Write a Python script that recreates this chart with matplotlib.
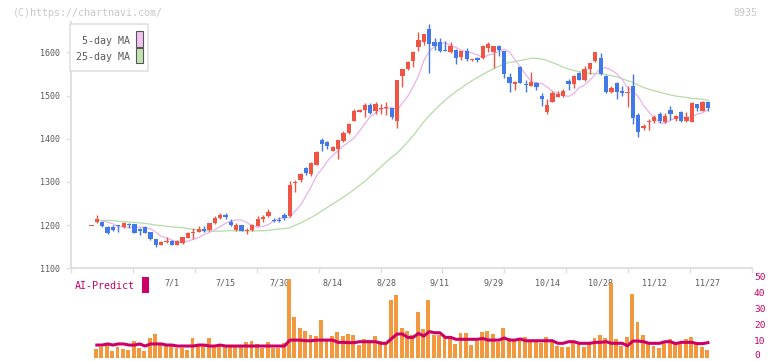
import numpy as np
import pandas as pd
import matplotlib
matplotlib.use('Agg')
import matplotlib.pyplot as plt
from matplotlib.patches import Rectangle
from matplotlib.transforms import blended_transform_factory

plt.rcParams['font.family'] = 'DejaVu Sans Mono'

# --- data (daily bars, 6/10 .. 11/27) ---
opens = [1200, 1207, 1208, 1196, 1196, 1199, 1196, 1203, 1202, 1190,
         1196, 1184, 1167, 1155, 1161, 1163, 1155, 1159, 1171, 1182,
         1185, 1191, 1189, 1204, 1216, 1223, 1208, 1189, 1200, 1186,
         1189, 1199, 1213, 1221, 1212, 1212, 1223, 1220, 1297, 1304,
         1332, 1318, 1340, 1397, 1392, 1372, 1376, 1395, 1413, 1442,
         1463, 1466, 1478, 1463, 1469, 1472, 1470, 1442, 1546, 1561,
         1581, 1613, 1625, 1653, 1623, 1623, 1605, 1601, 1605, 1590,
         1603, 1582, 1587, 1586, 1609, 1600, 1615, 1603, 1542, 1526,
         1567, 1527, 1523, 1530, 1499, 1462, 1486, 1497, 1500, 1534,
         1527, 1553, 1536, 1561, 1580, 1586, 1544, 1507, 1530, 1510,
         1506, 1522, 1455, 1424, 1440, 1441, 1457, 1439, 1466, 1446,
         1462, 1442, 1439, 1480, 1465, 1485]
highs = [1200, 1223, 1210, 1197, 1201, 1200, 1208, 1204, 1203, 1193,
         1198, 1185, 1168, 1163, 1172, 1165, 1166, 1173, 1183, 1193,
         1197, 1198, 1206, 1221, 1228, 1229, 1213, 1204, 1201, 1193,
         1203, 1222, 1223, 1237, 1217, 1219, 1227, 1303, 1305, 1321,
         1334, 1347, 1372, 1401, 1394, 1383, 1398, 1417, 1436, 1468,
         1468, 1482, 1483, 1485, 1480, 1485, 1472, 1537, 1562, 1580,
         1602, 1646, 1643, 1665, 1633, 1633, 1627, 1625, 1608, 1604,
         1609, 1585, 1589, 1618, 1623, 1615, 1617, 1604, 1551, 1533,
         1568, 1537, 1554, 1532, 1506, 1491, 1510, 1510, 1514, 1538,
         1548, 1555, 1568, 1576, 1601, 1598, 1547, 1521, 1531, 1521,
         1522, 1550, 1460, 1433, 1446, 1456, 1462, 1459, 1476, 1455,
         1464, 1461, 1484, 1481, 1487, 1487]
lows = [1200, 1205, 1196, 1180, 1187, 1185, 1194, 1193, 1182, 1178,
        1181, 1166, 1150, 1154, 1158, 1154, 1154, 1157, 1170, 1167,
        1183, 1184, 1186, 1203, 1213, 1214, 1197, 1187, 1186, 1179,
        1186, 1197, 1207, 1218, 1208, 1207, 1211, 1218, 1277, 1300,
        1317, 1314, 1339, 1371, 1377, 1371, 1352, 1393, 1411, 1440,
        1461, 1451, 1458, 1457, 1457, 1455, 1446, 1425, 1520, 1559,
        1565, 1604, 1616, 1551, 1606, 1600, 1602, 1598, 1574, 1583,
        1581, 1580, 1578, 1585, 1600, 1564, 1591, 1541, 1509, 1513,
        1529, 1509, 1522, 1513, 1476, 1457, 1485, 1496, 1497, 1513,
        1517, 1535, 1534, 1550, 1578, 1547, 1506, 1505, 1492, 1499,
        1474, 1434, 1405, 1421, 1420, 1436, 1436, 1436, 1443, 1441,
        1439, 1438, 1438, 1465, 1464, 1465]
closes = [1200, 1213, 1198, 1182, 1189, 1198, 1206, 1201, 1182, 1186,
          1182, 1167, 1153, 1162, 1162, 1155, 1164, 1172, 1182, 1183,
          1191, 1187, 1204, 1216, 1223, 1218, 1200, 1200, 1187, 1187,
          1200, 1213, 1219, 1231, 1211, 1211, 1216, 1293, 1299, 1318,
          1321, 1343, 1370, 1387, 1383, 1380, 1397, 1414, 1434, 1464,
          1465, 1477, 1460, 1480, 1470, 1473, 1451, 1536, 1561, 1578,
          1601, 1628, 1642, 1619, 1615, 1604, 1604, 1614, 1586, 1603,
          1584, 1583, 1582, 1615, 1619, 1614, 1605, 1549, 1528, 1532,
          1530, 1524, 1532, 1520, 1493, 1478, 1506, 1503, 1510, 1527,
          1546, 1536, 1561, 1575, 1600, 1550, 1508, 1518, 1509, 1505,
          1507, 1449, 1416, 1429, 1441, 1450, 1441, 1452, 1457, 1452,
          1441, 1451, 1483, 1472, 1485, 1472]

# volume (right scale) and AI-Predict line, first bar has none
volume = [np.nan,
          5.4, 6.9, 8.6, 4.2, 6.9, 5.4, 4.8, 10.4, 6.3, 4.2,
          12.5, 14.8, 7.9, 7.3, 7.6, 6.3, 6.3, 4.8, 12.3, 7.3,
          7.3, 12.3, 6.9, 7.9, 6.9, 6.9, 6.9, 7.3, 9.8, 10.4,
          8.6, 6.3, 9.8, 6.3, 6.3, 9.0, 49.2, 25.2, 18.6, 16.9,
          14.2, 13.6, 23.6, 11, 13.6, 16.3, 13.6, 14.8, 14.2, 7.9,
          11.5, 11, 13.6, 10.4, 9.4, 36, 39.2, 18.6, 16.7, 14.2,
          28.6, 17.9, 36, 14.2, 14.2, 13.6, 12.1, 8.6, 15.6, 15.6,
          7.7, 10.4, 16.3, 16.9, 14.8, 10, 18.8, 12.5, 11, 11,
          13, 11, 10, 9.5, 13, 10, 7.5, 7, 7, 10,
          9, 7, 10, 12.5, 14.5, 12.5, 47, 12, 7.5, 13,
          40, 22.5, 14, 10, 7.5, 6, 10, 11.5, 9, 10,
          12, 13, 9.5, 7, 5]
ai_predict = [np.nan,
              7.9, 7.9, 8.6, 7.9, 8.6, 8.6, 7.9, 7.9, 8.6, 7.3,
              8.6, 8.6, 8.6, 7.9, 7.9, 7.3, 7.3, 7.3, 7.3, 7.9,
              7.9, 7.3, 7.3, 7.9, 7.3, 7.3, 7.3, 7.3, 7.3, 7.3,
              7.3, 7.3, 7.3, 7.3, 7.3, 7.3, 11, 11, 11, 10.6,
              10.6, 11, 11, 11, 11, 9.6, 9.6, 9.4, 9.4, 10,
              10, 10, 10, 9, 9, 12, 14.8, 14.8, 12.7, 12.7,
              15.2, 13.5, 16.3, 15.6, 15.6, 12.7, 12.7, 11.5, 11.5, 11.5,
              11.5, 11.5, 12, 11, 11, 11, 12.3, 11, 11, 11.7,
              10.6, 10.6, 10.6, 10.6, 10.6, 10.6, 9, 9, 10, 10,
              9, 9, 9, 9.6, 9.6, 10, 9, 9, 9, 7.5,
              10.4, 10.4, 10, 9, 9, 9, 10, 10, 8.8, 9.6,
              9.6, 9.6, 8.8, 8.8, 9.4]

# moving averages at the start of the window (no earlier closes visible)
ma5_head = [np.nan, np.nan, 1210, 1207, 1203]
ma25_head = [np.nan, 1211, 1211, 1211, 1210, 1209, 1208, 1207, 1206, 1205,
             1204, 1202, 1200, 1199, 1197, 1196, 1195, 1194, 1192, 1190,
             1188, 1187, 1186, 1186, 1186]

date_labels = ['7/1', '7/15', '7/30', '8/14', '8/28', '9/11',
               '9/29', '10/14', '10/28', '11/12', '11/27']
date_pos = [15, 25, 35, 45, 55, 65, 75, 85, 95, 105, 115]
vol_ticks = [0, 10, 20, 30, 40, 50]

UP = '#f05444'
DOWN = '#4279ea'
VOL = '#f2983f'
AI = '#cc0066'
GRID = '#e0e0e0'
TXT = '#5a5a5a'

o = np.array(opens, float)
h = np.array(highs, float)
l = np.array(lows, float)
c = np.array(closes, float)
idx = np.arange(len(c))

cs = pd.Series(c)
ma5 = cs.rolling(5).mean().shift(1).to_numpy()
ma25 = cs.rolling(25).mean().shift(1).to_numpy()
ma5[:len(ma5_head)] = ma5_head
ma25[:len(ma25_head)] = ma25_head

W, H = 772, 361
fig = plt.figure(figsize=(W / 100, H / 100), dpi=100)


def fx(px):
    return px / W


def fy(py):
    return 1 - py / H


X0, X1 = 70.7, 752.3
ax = fig.add_axes([fx(X0), fy(268.3), fx(X1) - fx(X0), fy(22) - fy(268.3)])
axv = fig.add_axes([fx(X0), fy(357.7), fx(X1) - fx(X0), fy(277.7) - fy(357.7)])

xlo, xhi = -3.88, 123.28

# price panel
ax.plot(idx, ma25, color='#b5dba6', lw=0.9, zorder=2)
ax.plot(idx, ma5, color='#e9b2ec', lw=0.9, zorder=2)

colors = np.where(c >= o, UP, DOWN)
diff = np.abs(c - o)
body_h = np.maximum(diff, 2.6)
body_lo = np.minimum(o, c) - (body_h - diff) / 2
ax.vlines(idx, l, h, colors=colors, lw=1.0, zorder=3)
ax.bar(idx, body_h, bottom=body_lo, width=0.8, color=colors, lw=0, zorder=4)

ax.set_xlim(xlo, xhi)
ax.set_ylim(1100, 1100 + (268.3 - 22) / 0.432)
ax.set_yticks(range(1100, 1700, 100))
ax.set_xticks(np.linspace(xlo, xhi, 12))
ax.set_xticklabels([])
ax.tick_params(axis='y', length=3.6, width=1.0, color=GRID,
               labelcolor=TXT, labelsize=6, pad=4)
ax.tick_params(axis='x', length=3.6, width=1.0, color=GRID)
for s in ('top', 'right'):
    ax.spines[s].set_visible(False)
for s in ('left', 'bottom'):
    ax.spines[s].set_color(GRID)
    ax.spines[s].set_linewidth(1.4)
ax.patch.set_alpha(0)

# date labels between the panels
trans = blended_transform_factory(ax.transData, fig.transFigure)
for p, lab in zip(date_pos, date_labels):
    ax.text(p, fy(282.5), lab, transform=trans, ha='center', va='center',
            fontsize=6, color=TXT, clip_on=False)

# volume panel
axv.bar(idx - 0.15, volume, width=0.72, color=VOL, lw=0, zorder=2)
axv.plot(idx, ai_predict, color=AI, lw=2.2, zorder=3)
axv.set_xlim(xlo, xhi)
axv.set_ylim(0, 50)
axv.set_xticks([])
axv.set_yticks([])
for s in axv.spines.values():
    s.set_visible(False)
axv.patch.set_alpha(0)

# right-hand volume scale, drawn as text so the "0" stays inside the figure
vtrans = blended_transform_factory(fig.transFigure, axv.transData)
for v in vol_ticks:
    if v == 0:
        fig.text(fx(754), fy(360), str(v), color=AI, fontsize=6.8,
                 ha='left', va='bottom')
    else:
        axv.text(fx(754), v, str(v), transform=vtrans, color=AI, fontsize=6.8,
                 ha='left', va='center', clip_on=False)

# header texts
fig.text(fx(13), fy(12.5), '(C)https://chartnavi.com/', color='#c8c8c8',
         fontsize=7.2, ha='left', va='center')
fig.text(fx(757), fy(12.5), '8935', color='#c8c8c8', fontsize=7.2,
         ha='right', va='center')

# legend box
fig.patches.append(Rectangle((fx(70), fy(71)), fx(148) - fx(70), fy(24) - fy(71),
                             transform=fig.transFigure, fc='white', ec=GRID, lw=1.2))
fig.text(fx(130), fy(40.5), '5-day MA', color=TXT, fontsize=7.2, ha='right', va='center')
fig.text(fx(130), fy(57), '25-day MA', color=TXT, fontsize=7.2, ha='right', va='center')
fig.patches.append(Rectangle((fx(136.3), fy(46.5)), fx(6.3), 15.5 / H,
                             transform=fig.transFigure, fc='#f0c2f0', ec='#555555', lw=0.8))
fig.patches.append(Rectangle((fx(136.3), fy(63.3)), fx(6.3), 15.0 / H,
                             transform=fig.transFigure, fc='#c2e2b2', ec='#555555', lw=0.8))

# AI-Predict label
fig.text(fx(75), fy(286), 'AI-Predict', color=AI, fontsize=7.2, ha='left', va='center')
fig.patches.append(Rectangle((fx(142), fy(293)), fx(6.5), 16.0 / H,
                             transform=fig.transFigure, fc=AI, ec='none'))

fig.savefig('out.png', dpi=100)
